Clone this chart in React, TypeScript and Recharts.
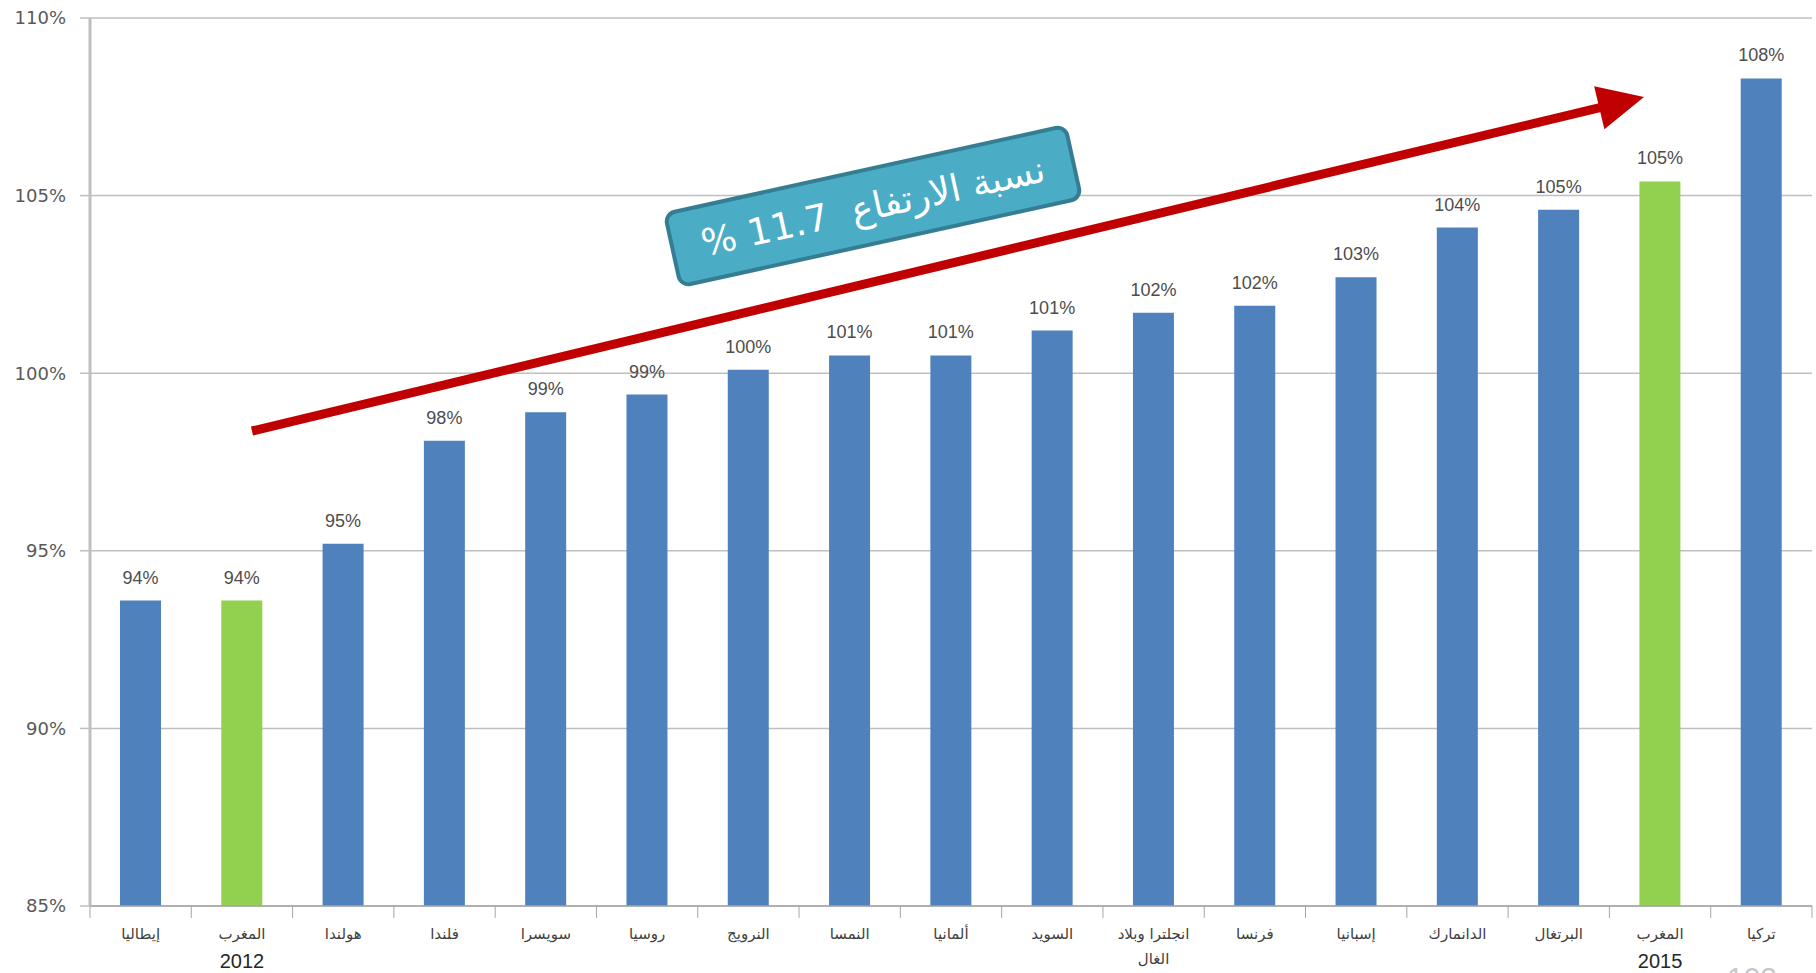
import React from "react";
import { Bar, BarChart, CartesianGrid, Cell, LabelList, XAxis, YAxis } from "recharts";

// countries, right-to-left reading order drawn left to right as in the original slide
const countries = [
  "إيطاليا",
  "المغرب|2012",
  "هولندا",
  "فلندا",
  "سويسرا",
  "روسيا",
  "النرويج",
  "النمسا",
  "ألمانيا",
  "السويد",
  "انجلترا وبلاد|الغال",
  "فرنسا",
  "إسبانيا",
  "الدانمارك",
  "البرتغال",
  "المغرب|2015",
  "تركيا",
];

const values = [93.6, 93.6, 95.2, 98.1, 98.9, 99.4, 100.1, 100.5, 100.5, 101.2, 101.7, 101.9, 102.7, 104.1, 104.6, 105.4, 108.3];

const highlighted = [false, true, false, false, false, false, false, false, false, false, false, false, false, false, false, true, false];

const yTicks = [85, 90, 95, 100, 105, 110];

const data = countries.map((name, i) => ({ name, value: values[i], morocco: highlighted[i] }));

const W = 1816;
const H = 973;
const M = { top: 18, right: 4, bottom: 0, left: 0 };
const X_AXIS_H = 67;
const Y_AXIS_W = 90;
const band = (W - M.left - M.right - Y_AXIS_W) / countries.length;

function CountryTick(props: any) {
  const { x, y, payload, index } = props;
  const [first, second] = String(payload.value).split("|");
  const isYear = second && /^\d+$/.test(second);
  return (
    <g>
      <line x1={x - band / 2} x2={x - band / 2} y1={y} y2={y + 12} stroke="#A6A6A6" />
      {index === countries.length - 1 && (
        <line x1={x + band / 2} x2={x + band / 2} y1={y} y2={y + 12} stroke="#A6A6A6" />
      )}
      <text x={x} y={y + 33} textAnchor="middle" fontSize={15} fill="#404040" fontFamily="DejaVu Sans" direction="rtl">
        {first}
      </text>
      {second && (
        <text
          x={x}
          y={y + (isYear ? 62 : 58)}
          textAnchor="middle"
          fontSize={isYear ? 20 : 15}
          fill={isYear ? "#262626" : "#404040"}
          fontFamily={isYear ? "Liberation Sans" : "DejaVu Sans"}
          direction="rtl"
        >
          {second}
        </text>
      )}
    </g>
  );
}

export default function App() {
  // arrow geometry (annotation, page pixels)
  const ax0 = 252, ay0 = 431, ax1 = 1644, ay1 = 97;
  const len = Math.hypot(ax1 - ax0, ay1 - ay0);
  const ang = (Math.atan2(ay1 - ay0, ax1 - ax0) * 180) / Math.PI;

  return (
    <div style={{ position: "fixed", left: 0, top: 0, width: W, height: H, overflow: "hidden", background: "#fff" }}>
      <BarChart width={W} height={H} data={data} margin={M} barSize={41}>
        <CartesianGrid vertical={false} stroke="#BFBFBF" strokeWidth={1.5} />
        <XAxis
          dataKey="name"
          interval={0}
          height={X_AXIS_H}
          tickLine={false}
          tickSize={0}
          tickMargin={0}
          axisLine={{ stroke: "#A6A6A6", strokeWidth: 1.5 }}
          tick={<CountryTick />}
        />
        <YAxis
          domain={[85, 110]}
          ticks={yTicks}
          width={Y_AXIS_W}
          tickFormatter={(v) => `${v}%`}
          tickSize={10}
          tickMargin={14}
          tickLine={{ stroke: "#BFBFBF", strokeWidth: 1.5 }}
          axisLine={{ stroke: "#BFBFBF", strokeWidth: 3 }}
          tick={{ fontSize: 18, fill: "#595959", fontFamily: "DejaVu Sans" }}
          allowDataOverflow
        />
        <Bar dataKey="value" isAnimationActive={false}>
          {data.map((d, i) => (
            <Cell key={i} fill={d.morocco ? "#92D050" : "#4F81BD"} />
          ))}
          <LabelList
            dataKey="value"
            position="top"
            offset={17}
            formatter={(v: any) => `${Math.round(Number(v))}%`}
            style={{ fontSize: 18, fill: "#4D4D4D", fontFamily: "Liberation Sans" }}
          />
        </Bar>
      </BarChart>

      <svg width={W} height={H} style={{ position: "absolute", left: 0, top: 0, pointerEvents: "none" }}>
        <g transform={`translate(${ax0},${ay0}) rotate(${ang})`}>
          <line x1={0} y1={0} x2={len - 40} y2={0} stroke="#C00000" strokeWidth={9} />
          <polygon points={`${len},0 ${len - 46},-22 ${len - 46},22`} fill="#C00000" />
        </g>
        <text x={1752} y={988} textAnchor="middle" fontSize={30} fill="#C8C8C8" fontFamily="Liberation Sans">
          102
        </text>
      </svg>

      <div
        dir="rtl"
        style={{
          position: "absolute",
          left: 873 - 207,
          top: 206 - 39,
          width: 414,
          height: 78,
          boxSizing: "border-box",
          background: "#4BACC6",
          border: "4px solid #357D91",
          borderRadius: 12,
          transform: "rotate(-12.4deg)",
          display: "flex",
          alignItems: "center",
          justifyContent: "center",
          color: "#fff",
          fontSize: 37,
          fontFamily: "DejaVu Sans",
          whiteSpace: "pre",
        }}
      >
        {"نسبة الارتفاع  11.7 %"}
      </div>
    </div>
  );
}
